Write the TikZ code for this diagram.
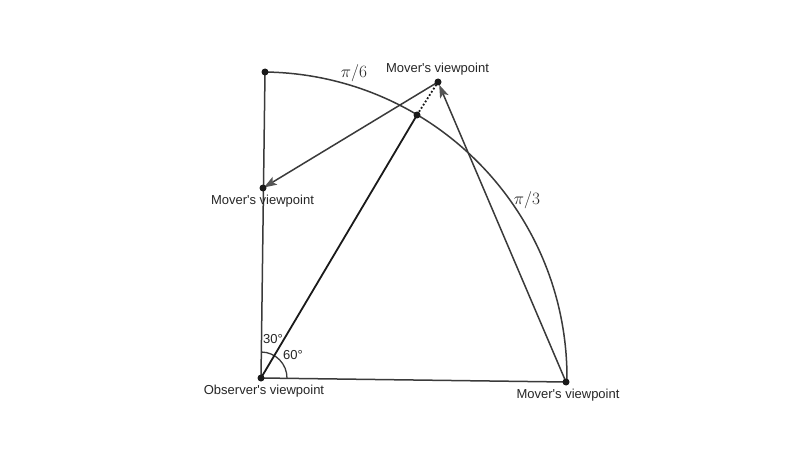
\documentclass[tikz,border=0pt]{standalone}
\usepackage{fontspec}
\setmainfont{Liberation Sans}
\usetikzlibrary{arrows.meta}
\definecolor{ln}{HTML}{3A3A3A}
\definecolor{dk}{HTML}{1A1A1A}
\definecolor{tip}{HTML}{555555}
\definecolor{dt}{HTML}{1A1A1A}
\tikzset{
  seg/.style={draw=ln, line width=1.5pt},
  arr/.style={draw=ln, line width=1.5pt, -{Stealth[length=13pt,width=9pt,inset=3pt,color=tip]}},
  dot/.style={circle, fill=dt, inner sep=0pt, minimum size=7pt},
  lbl/.style={font=\fontsize{13}{15}\selectfont, text=black!85, inner sep=0pt},
  mlb/.style={font=\fontsize{16}{19}\selectfont, text=black!85, inner sep=0pt}
}
\newcommand{\ap}{\textquotesingle}
\begin{document}
\begin{tikzpicture}[x=1pt,y=1pt]
\useasboundingbox[fill=white] (0,0) rectangle (800,456);
\coordinate (O) at (261,78);
\coordinate (A) at (265,384);
\coordinate (B) at (566,74);
\coordinate (P) at (417,341);
\coordinate (Q) at (438,374);
\coordinate (C) at (263,268);
% main arc
\draw[seg] (A) arc[start angle=89.25, end angle=-0.75, radius=306];
% angle mark
\draw[draw=ln, line width=1.3pt] ([shift={(-0.75:26)}]O) arc[start angle=-0.75, end angle=89.25, radius=26];
% segments
\draw[seg] (O) -- (A);
\draw[seg] (O) -- (B);
\draw[draw=dk, line width=1.8pt] (O) -- (P);
\draw[draw=dk, line width=1.8pt, dotted] (P) -- (Q);
\draw[arr, shorten >=1pt] (Q) -- (C);
\draw[arr, shorten >=3pt] (B) -- (Q);
% dots
\node[dot] (nO) at (O) {};
\node[dot] (nA) at (A) {};
\node[dot] (nB) at (B) {};
\node[dot] (nP) at (P) {};
\node[dot] (nQ) at (Q) {};
\node[dot] (nC) at (C) {};
% labels
\node[lbl] (tO) at (264,65) {Observer\ap s viewpoint};
\node[lbl] (tB) at (568,61) {Mover\ap s viewpoint};
\node[lbl] (tC) at (262.5,255) {Mover\ap s viewpoint};
\node[lbl] (tQ) at (437.5,387) {Mover\ap s viewpoint};
\node[lbl] (t30) at (273,117) {30°};
\node[lbl] (t60) at (293,101) {60°};
\node[mlb] (pi6) at (354,383) {$\pi/6$};
\node[mlb] (pi3) at (527,256) {$\pi/3$};
\end{tikzpicture}
\end{document}
